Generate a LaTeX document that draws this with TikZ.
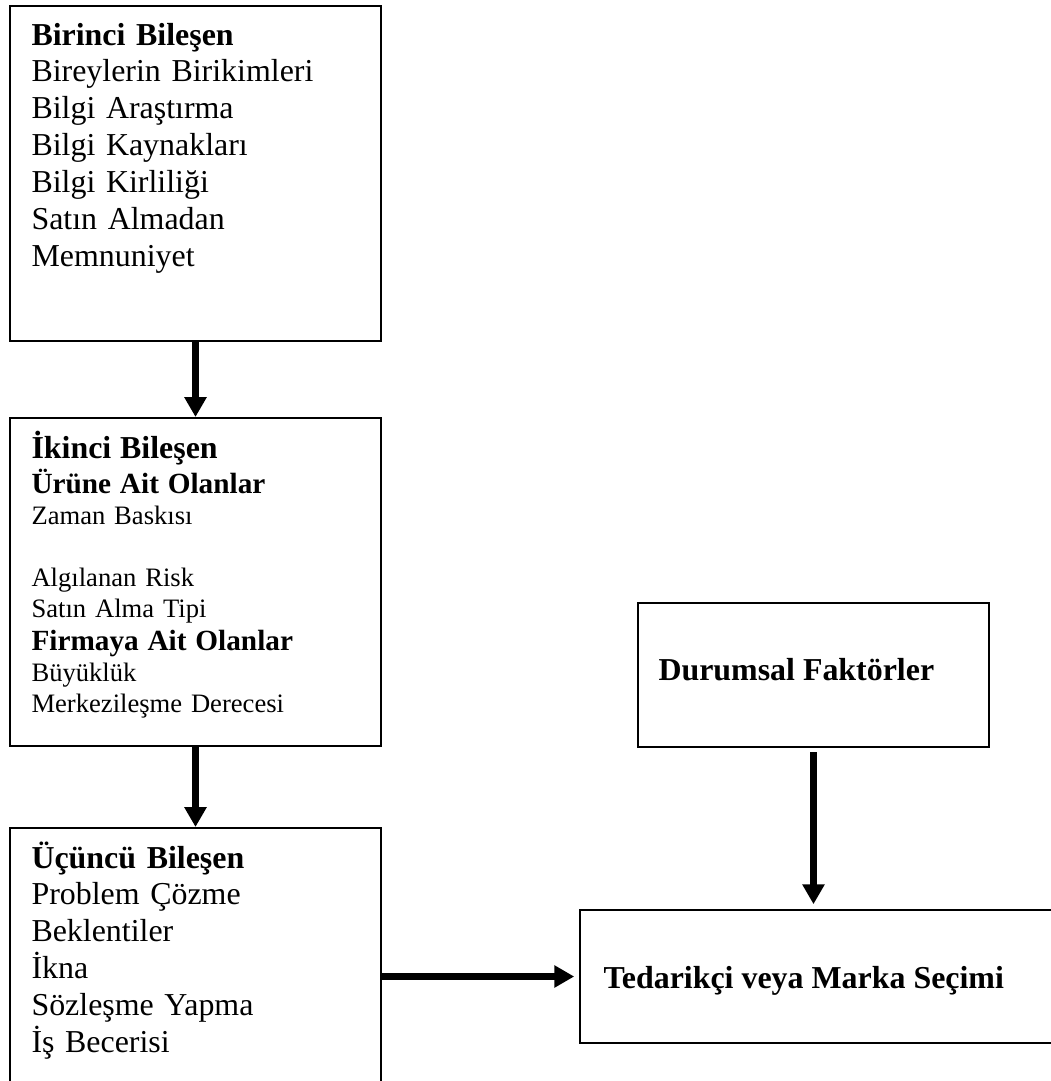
\documentclass[tikz,border=0pt]{standalone}
\usepackage{fontspec}
\setmainfont{Liberation Serif}
\usetikzlibrary{arrows.meta,fit}
\newcommand\fixedlines{\lineskiplimit=-20pt\relax}
\tikzstyle{box}=[draw, line width=0.75pt, inner sep=0pt]
\tikzstyle{txt}=[anchor=base west, inner sep=0pt, text width=132pt, align=left]
\tikzstyle{arr}=[line width=2.5pt, -{Triangle[length=7.5pt,width=8pt]}]

\begin{document}
\begin{tikzpicture}[x=0.376pt, y=-0.376pt]
    \useasboundingbox (0,0) rectangle (1051,1081);
    \clip (0,0) rectangle (1051,1081);
    % boxes
    \node[box, fit={(10,6) (381,341)}] (b1) {};
    \node[box, fit={(10,418) (381,746)}] (b2) {};
    \node[box, fit={(10,828) (381,1120)}] (b3) {};
    \node[box, fit={(638,603) (989,747)}] (durum) {};
    \node[box, fit={(580,910) (1090,1043)}] (teda) {};
    % texts
    \node[txt, font=\fontsize{12}{13.9}\selectfont] (t1) at (31,45)
        {\fixedlines\textbf{Birinci Bileşen}\\ Bireylerin Birikimleri\\ Bilgi Araştırma\\ Bilgi Kaynakları\\
         Bilgi Kirliliği\\ Satın Almadan\\ Memnuniyet};
    \node[txt, font=\fontsize{10}{11.7}\selectfont] (t2) at (31,458)
        {\fixedlines{\fontsize{12}{13.9}\selectfont\bfseries İkinci Bileşen}\\[1.5pt]
         {\fontsize{11}{12}\selectfont\bfseries Ürüne Ait Olanlar}\\
         Zaman Baskısı\\[11.7pt]
         Algılanan Risk\\
         Satın Alma Tipi\\[0.7pt]
         {\fontsize{11}{12}\selectfont\bfseries Firmaya Ait Olanlar}\\
         Büyüklük\\
         Merkezileşme Derecesi};
    \node[txt, font=\fontsize{12}{13.85}\selectfont] (t3) at (31,868)
        {\fixedlines\textbf{Üçüncü Bileşen}\\ Problem Çözme\\ Beklentiler\\ İkna\\ Sözleşme Yapma\\ İş Becerisi};
    \node[anchor=base west, inner sep=0pt, font=\fontsize{12}{14}\selectfont\bfseries] (tdurum) at (658,680) {Durumsal Faktörler};
    \node[anchor=base west, inner sep=0pt, font=\fontsize{12}{14}\selectfont\bfseries] (tteda) at (603,988) {Tedarikçi veya Marka Seçimi};
    % arrows
    \draw[arr] (b1) -- (b2);
    \draw[arr] (b2) -- (b3);
    \draw[arr, shorten <=1.5pt, shorten >=1.8pt] (durum) -- (durum.south |- teda.north);
    \draw[arr, shorten >=1.8pt] (teda.west -| b3.east) -- (teda.west);
\end{tikzpicture}
\end{document}
